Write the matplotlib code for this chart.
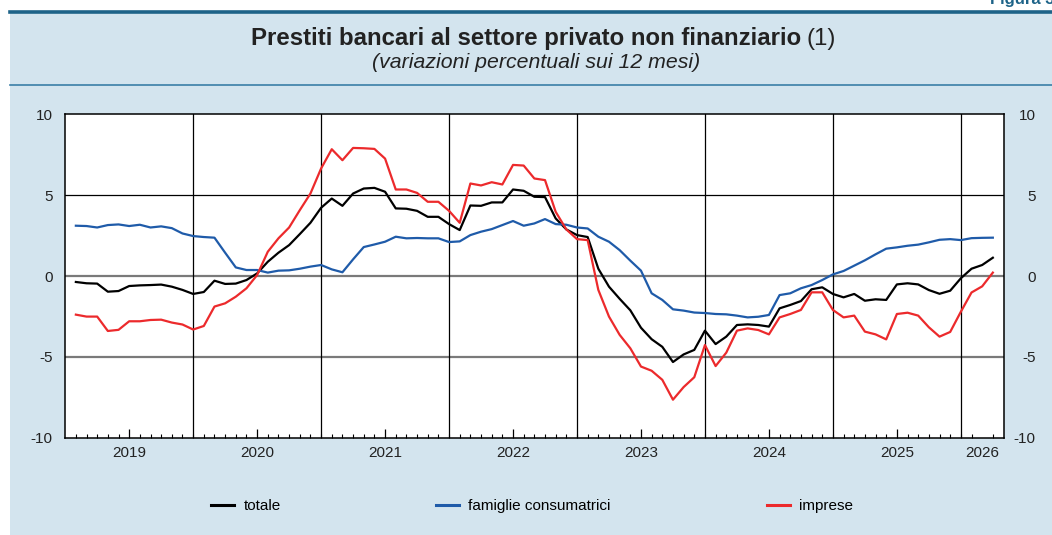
import numpy as np
import matplotlib
matplotlib.use("Agg")
import matplotlib.pyplot as plt
from matplotlib.lines import Line2D

plt.rcParams['font.family'] = ['Liberation Sans', 'DejaVu Sans']

# monthly data, Jan 2019 .. Mar 2026 (plotted at month end)
years = ['2019', '2020', '2021', '2022', '2023', '2024', '2025', '2026']

totale = [-0.37, -0.45, -0.47, -0.97, -0.93, -0.62, -0.58, -0.56, -0.53, -0.66, -0.86, -1.11,
          -0.99, -0.29, -0.49, -0.47, -0.25, 0.16, 0.88, 1.44, 1.91, 2.59, 3.29, 4.22,
          4.79, 4.34, 5.10, 5.41, 5.45, 5.21, 4.18, 4.16, 4.03, 3.66, 3.66, 3.21,
          2.84, 4.36, 4.34, 4.55, 4.55, 5.35, 5.27, 4.90, 4.88, 3.56, 2.88, 2.53,
          2.41, 0.45, -0.66, -1.41, -2.12, -3.20, -3.91, -4.38, -5.32, -4.85, -4.57, -3.38,
          -4.21, -3.75, -3.03, -2.99, -3.03, -3.13, -2.00, -1.79, -1.55, -0.82, -0.70, -1.11,
          -1.32, -1.11, -1.53, -1.44, -1.48, -0.52, -0.45, -0.52, -0.87, -1.10, -0.91, -0.14,
          0.45, 0.68, 1.13]

famiglie = [3.11, 3.09, 3.00, 3.15, 3.19, 3.09, 3.17, 3.00, 3.07, 2.96, 2.63, 2.47,
            2.41, 2.37, 1.44, 0.53, 0.37, 0.37, 0.21, 0.33, 0.35, 0.45, 0.58, 0.68,
            0.41, 0.23, 1.03, 1.79, 1.95, 2.12, 2.43, 2.33, 2.35, 2.33, 2.33, 2.10,
            2.14, 2.53, 2.74, 2.90, 3.15, 3.40, 3.11, 3.25, 3.52, 3.21, 3.17, 3.00,
            2.94, 2.43, 2.12, 1.60, 0.95, 0.33, -1.07, -1.48, -2.06, -2.14, -2.26, -2.29,
            -2.35, -2.37, -2.45, -2.56, -2.52, -2.41, -1.18, -1.07, -0.76, -0.56, -0.25, 0.10,
            0.31, 0.64, 0.97, 1.34, 1.69, 1.77, 1.87, 1.94, 2.08, 2.24, 2.28, 2.22,
            2.34, 2.36, 2.37]

imprese = [-2.39, -2.51, -2.51, -3.40, -3.33, -2.80, -2.80, -2.72, -2.70, -2.88, -3.00, -3.31,
           -3.09, -1.89, -1.69, -1.28, -0.76, 0.06, 1.50, 2.33, 3.00, 4.07, 5.10, 6.65,
           7.84, 7.16, 7.92, 7.90, 7.86, 7.26, 5.35, 5.35, 5.14, 4.59, 4.59, 4.03,
           3.29, 5.72, 5.60, 5.80, 5.66, 6.87, 6.83, 6.03, 5.93, 3.97, 2.88, 2.28,
           2.22, -0.86, -2.51, -3.64, -4.47, -5.60, -5.86, -6.42, -7.65, -6.87, -6.26, -4.27,
           -5.57, -4.74, -3.38, -3.24, -3.34, -3.61, -2.56, -2.35, -2.10, -1.01, -1.01, -2.10,
           -2.56, -2.45, -3.44, -3.61, -3.92, -2.35, -2.27, -2.45, -3.17, -3.75, -3.46, -2.21,
           -1.02, -0.64, 0.21]

labels = ['totale', 'famiglie consumatrici', 'imprese']
colors = ['#000000', '#1f5ba9', '#ec2a2c']

bg = '#d3e4ee'
dark = '#1d6388'

fig = plt.figure(figsize=(10.52, 5.35), dpi=100)
fig.patch.set_facecolor('white')

# light blue panel with the two rules
fig.patches.append(plt.Rectangle((10/1052, 0), 1, 1 - 12/535, transform=fig.transFigure,
                                 facecolor=bg, edgecolor='none', zorder=-10))
fig.add_artist(Line2D([10/1052, 1], [1 - 12/535] * 2, color=dark, lw=2.6))
fig.add_artist(Line2D([10/1052, 1], [1 - 84.5/535] * 2, color='#3a7ea6', lw=1.2))
fig.text(990/1052, 1 - 4/535, 'Figura 3.1', color=dark, fontsize=12, fontweight='bold',
         ha='left', va='baseline')

fig.text(801/1052, 1 - 38.5/535, 'Prestiti bancari al settore privato non finanziario',
         fontsize=17.3, fontweight='bold', ha='right', va='center', color='#222222')
fig.text(806/1052, 1 - 38.5/535, '(1)', fontsize=17.3, ha='left', va='center', color='#222222')
fig.text(536/1052, 1 - 62.5/535, '(variazioni percentuali sui 12 mesi)', fontsize=15.3,
         style='italic', ha='center', va='center', color='#222222')

ax = fig.add_axes([65.2/1052, 1 - 437.7/535, (1003.5 - 65.2)/1052, (437.7 - 114.3)/535])
ax.set_zorder(2)
ax.set_facecolor('white')
x = np.arange(1, len(totale) + 1)
n_months = 88

for y0, c, w in [(5, 'black', 0.9), (0, '#7a7a7a', 1.6), (-5, '#7a7a7a', 1.6)]:
    ax.axhline(y0, color=c, lw=w, zorder=1)
for k in range(1, len(years)):
    ax.axvline(12 * k, color='black', lw=0.9, zorder=1)

for data, c, lab in zip([totale, famiglie, imprese], colors, labels):
    ax.plot(x, data, color=c, lw=1.6, label=lab, zorder=3)

ax.set_xlim(0, n_months)
ax.set_ylim(-10, 10)
ax.set_yticks([-10, -5, 0, 5, 10])
ax.set_yticklabels(['-10', '-5', '0', '5', '10'])
ax.tick_params(axis='y', length=0, pad=9, labelsize=11, labelcolor='#222222')

centers = [12 * i + 6 for i in range(len(years) - 1)] + [(12 * (len(years) - 1) + n_months) / 2]
ax.set_xticks(centers)
ax.set_xticklabels(years)
ax.set_xticks(np.arange(1, n_months), minor=True)
ax.tick_params(axis='x', which='major', direction='in', length=6.5, width=0.9, pad=6,
               labelsize=11, labelcolor='#222222')
ax.tick_params(axis='x', which='minor', direction='in', length=3, width=0.8)
ax.xaxis.get_major_ticks()[-1].tick1line.set_visible(False)

for s in ax.spines.values():
    s.set_color('black')
    s.set_linewidth(1.1)

ax2 = ax.twinx()
ax2.set_zorder(3)
ax2.set_ylim(-10, 10)
ax2.set_yticks([-10, -5, 0, 5, 10])
ax2.set_yticklabels(['-10', '-5', '0', '5', '10'])
ax2.tick_params(axis='y', length=0, pad=23, labelsize=11, labelcolor='#222222')
for t in ax2.get_yticklabels():
    t.set_horizontalalignment('right')
for s in ax2.spines.values():
    s.set_visible(False)

handles, labs = ax.get_legend_handles_labels()
leg = fig.legend(handles, labs, loc='center', bbox_to_anchor=(532/1052, 1 - 506/535),
                 ncol=3, frameon=False, fontsize=11, handlelength=1.5, handletextpad=0.6,
                 columnspacing=10.2)
for h in leg.legend_handles:
    h.set_linewidth(2.2)

fig.savefig('out.png', dpi=100, facecolor=fig.get_facecolor())
